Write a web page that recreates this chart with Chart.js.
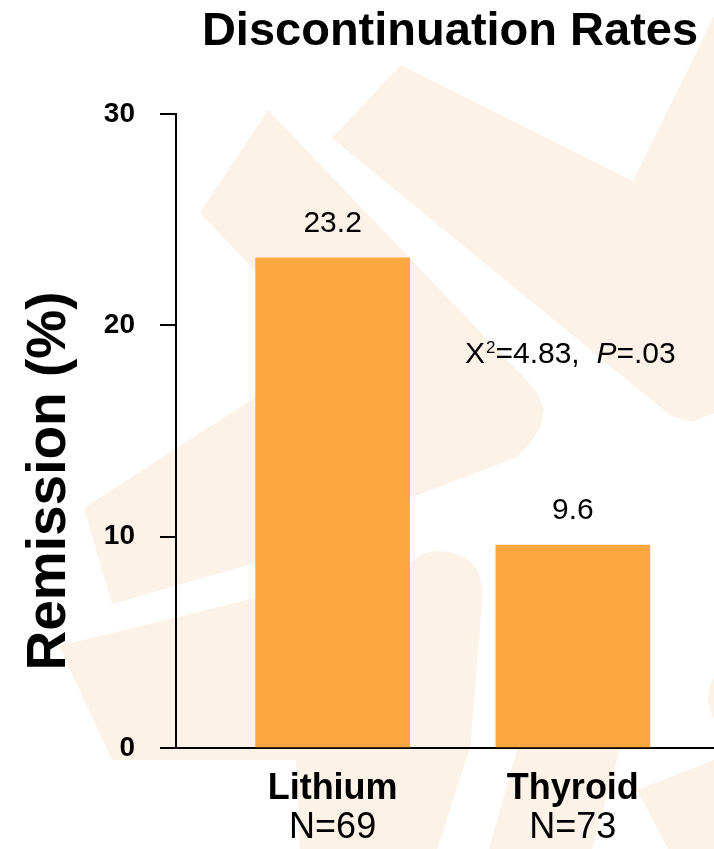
<!DOCTYPE html>
<html>
<head>
<meta charset="utf-8">
<title>Discontinuation Rates</title>
<script src="https://cdn.jsdelivr.net/npm/chart.js@4.4.1/dist/chart.umd.min.js"></script>
<style>
  html, body { margin: 0; padding: 0; background: #ffffff; }
  #wrap { width: 714px; height: 849px; position: relative; }
</style>
</head>
<body>
<div id="wrap"><canvas id="chart"></canvas></div>
<script>
// ---- data ----
const categories = ['Lithium', 'Thyroid'];
const sampleSizes = ['N=69', 'N=73'];
const remission = [23.2, 9.6];
const yTicks = [0, 10, 20, 30];
const chartTitle = 'Discontinuation Rates';
const yTitle = 'Remission (%)';

const FONT = '"Liberation Sans", Arial, Helvetica, sans-serif';
const BAR_COLOR = '#F9A83F';
const WASH = '#FCF2E8';

// soft decorative shapes behind the plot
const backdrop = {
  id: 'backdrop',
  beforeDraw(chart) {
    const ctx = chart.ctx;
    ctx.save();
    ctx.fillStyle = '#ffffff';
    ctx.fillRect(0, 0, chart.width, chart.height);
    ctx.fillStyle = WASH;
    const poly = (pts) => {
      ctx.beginPath();
      ctx.moveTo(pts[0][0], pts[0][1]);
      for (let i = 1; i < pts.length; i++) ctx.lineTo(pts[i][0], pts[i][1]);
      ctx.closePath();
      ctx.fill();
    };
    // upper right chevron
    poly([[332,138],[401,65],[633,181],[722,0],[800,0],[800,410],[712,414],[692,422],[672,416],[660,407]]);
    // left chevron
    poly([[268,110],[528,382],[538,394],[544,410],[540,428],[528,446],[515,458],[410,498],[255,563],[112,604],[84,508],[330,349],[200,213]]);
    // lower left band bending down under the first label
    poly([[59,646],[255,598],[412,562],[422,554],[435,551],[450,552],[466,558],[478,570],[483,590],[470,748],[437,849],[300,849],[296,760],[112,760]]);
    // strip under the second label
    poly([[545,650],[648,650],[617,760],[592,849],[489,849],[514,760]]);
    // bottom right wedge
    poly([[637,790],[714,760],[714,849],[668,849]]);
    // rounded edge on the right
    ctx.beginPath();
    ctx.arc(746, 698, 38, 0, Math.PI * 2);
    ctx.fill();
    ctx.restore();
  }
};

// value labels, title, axis title and test statistic
const annotations = {
  id: 'annotations',
  afterDraw(chart) {
    const ctx = chart.ctx;
    ctx.save();
    ctx.fillStyle = '#000000';

    // bar values
    ctx.font = '30px ' + FONT;
    ctx.textAlign = 'center';
    ctx.textBaseline = 'alphabetic';
    chart.getDatasetMeta(0).data.forEach((bar, i) => {
      ctx.fillText(remission[i].toFixed(1), bar.x, bar.y - 26);
    });

    // chart title
    ctx.font = 'bold 47px ' + FONT;
    ctx.fillText(chartTitle, 450, 45);

    // y axis title
    ctx.save();
    ctx.translate(65, 481);
    ctx.rotate(-Math.PI / 2);
    ctx.font = 'bold 55px ' + FONT;
    ctx.textAlign = 'center';
    ctx.fillText(yTitle, 0, 0);
    ctx.restore();

    // chi-square note
    ctx.textAlign = 'left';
    let x = 465;
    const y = 363;
    ctx.font = '30px ' + FONT;
    ctx.fillText('X', x, y);
    x += ctx.measureText('X').width + 1;
    ctx.font = '17px ' + FONT;
    ctx.fillText('2', x, y - 10);
    x += ctx.measureText('2').width;
    ctx.font = '30px ' + FONT;
    ctx.fillText('=4.83,', x, y);
    x += ctx.measureText('=4.83,  ').width;
    ctx.font = 'italic 30px ' + FONT;
    ctx.fillText('P', x, y);
    x += ctx.measureText('P').width;
    ctx.font = '30px ' + FONT;
    ctx.fillText('=.03', x, y);

    ctx.restore();
  }
};

const categoryTicks = (scale) => {
  scale.ticks = categories.map((_, i) => ({ value: i + 1 }));
};

const X_MIN = 0.348;
const X_MAX = 2.5875;

new Chart(document.getElementById('chart'), {
  type: 'bar',
  data: {
    datasets: [{
      label: 'Remission',
      data: remission.map((v, i) => ({ x: i + 1, y: v })),
      backgroundColor: BAR_COLOR,
      borderWidth: 0,
      barThickness: 154
    }]
  },
  options: {
    responsive: true,
    maintainAspectRatio: false,
    animation: false,
    layout: { padding: { top: 114, left: 0, right: 0, bottom: 0 } },
    plugins: {
      legend: { display: false },
      title: { display: false },
      tooltip: { enabled: false }
    },
    scales: {
      x: {
        type: 'linear',
        position: 'bottom',
        offset: false,
        min: X_MIN,
        max: X_MAX,
        z: 1,
        afterBuildTicks: categoryTicks,
        afterFit(s) { s.height = 62; },
        grid: { display: false, drawTicks: false, offset: false },
        border: { display: true, color: '#000000', width: 2 },
        ticks: {
          padding: 23,
          color: '#000000',
          font: { family: FONT, size: 36, weight: 'bold', lineHeight: 1 },
          callback: (v) => categories[Math.round(v) - 1] ?? ''
        }
      },
      xN: {
        type: 'linear',
        position: 'bottom',
        offset: false,
        min: X_MIN,
        max: X_MAX,
        afterBuildTicks: categoryTicks,
        afterFit(s) { s.height = 39; },
        grid: { display: false, drawTicks: false, offset: false },
        border: { display: false },
        ticks: {
          padding: 0,
          color: '#000000',
          font: { family: FONT, size: 36, lineHeight: 1 },
          callback: (v) => sampleSizes[Math.round(v) - 1] ?? ''
        }
      },
      y: {
        min: 0,
        max: 30,
        z: 1,
        afterBuildTicks: (s) => { s.ticks = yTicks.map((v) => ({ value: v })); },
        afterFit(s) { s.width = 176; },
        grid: { display: true, drawOnChartArea: false, drawTicks: true, tickLength: 16, color: '#000000', lineWidth: 2 },
        border: { display: true, color: '#000000', width: 2 },
        ticks: {
          padding: 25,
          color: '#000000',
          font: { family: FONT, size: 28, weight: 'bold' }
        }
      }
    }
  },
  plugins: [backdrop, annotations]
});
</script>
</body>
</html>
